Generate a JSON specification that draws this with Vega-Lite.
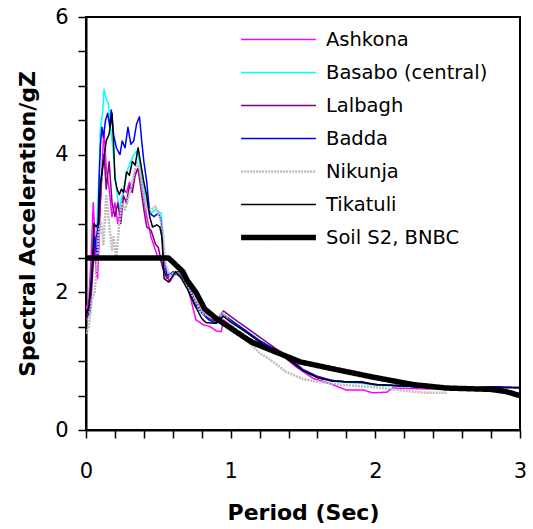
{
"$schema": "https://vega.github.io/schema/vega-lite/v6.json",
"width": 434, "height": 413,
"autosize": "none",
"padding": {"left": 86, "top": 17, "right": 13, "bottom": 99},
"background": "white",
"config": {"view": {"stroke": "black", "strokeWidth": 2}, "font": "DejaVu Sans"},
"data": {"values": [
{"s":"Ashkona","T":0,"Sa":1.75},{"s":"Ashkona","T":0.02,"Sa":1.9},{"s":"Ashkona","T":0.035,"Sa":2.5},{"s":"Ashkona","T":0.05,"Sa":3.3},{"s":"Ashkona","T":0.06,"Sa":2.9},{"s":"Ashkona","T":0.07,"Sa":2.3},{"s":"Ashkona","T":0.08,"Sa":2.2},{"s":"Ashkona","T":0.09,"Sa":2.7},{"s":"Ashkona","T":0.1,"Sa":3.3},{"s":"Ashkona","T":0.115,"Sa":4.0},{"s":"Ashkona","T":0.125,"Sa":4.35},{"s":"Ashkona","T":0.14,"Sa":3.8},{"s":"Ashkona","T":0.16,"Sa":3.5},{"s":"Ashkona","T":0.18,"Sa":3.1},{"s":"Ashkona","T":0.2,"Sa":3.3},{"s":"Ashkona","T":0.22,"Sa":3.0},{"s":"Ashkona","T":0.24,"Sa":3.2},{"s":"Ashkona","T":0.26,"Sa":3.5},{"s":"Ashkona","T":0.28,"Sa":3.45},{"s":"Ashkona","T":0.3,"Sa":3.6},{"s":"Ashkona","T":0.32,"Sa":3.5},{"s":"Ashkona","T":0.34,"Sa":3.75},{"s":"Ashkona","T":0.36,"Sa":3.8},{"s":"Ashkona","T":0.38,"Sa":3.6},{"s":"Ashkona","T":0.4,"Sa":3.35},{"s":"Ashkona","T":0.42,"Sa":3.1},{"s":"Ashkona","T":0.45,"Sa":2.8},{"s":"Ashkona","T":0.49,"Sa":2.55},{"s":"Ashkona","T":0.52,"Sa":2.45},{"s":"Ashkona","T":0.55,"Sa":2.28},{"s":"Ashkona","T":0.58,"Sa":2.15},{"s":"Ashkona","T":0.62,"Sa":2.3},{"s":"Ashkona","T":0.66,"Sa":2.25},{"s":"Ashkona","T":0.7,"Sa":2.1},{"s":"Ashkona","T":0.73,"Sa":1.85},{"s":"Ashkona","T":0.76,"Sa":1.6},{"s":"Ashkona","T":0.81,"Sa":1.53},{"s":"Ashkona","T":0.86,"Sa":1.5},{"s":"Ashkona","T":0.9,"Sa":1.44},{"s":"Ashkona","T":0.935,"Sa":1.43},{"s":"Ashkona","T":0.95,"Sa":1.6},{"s":"Ashkona","T":1.0,"Sa":1.52},{"s":"Ashkona","T":1.06,"Sa":1.4},{"s":"Ashkona","T":1.2,"Sa":1.26},{"s":"Ashkona","T":1.34,"Sa":1.11},{"s":"Ashkona","T":1.45,"Sa":0.92},{"s":"Ashkona","T":1.57,"Sa":0.75},{"s":"Ashkona","T":1.68,"Sa":0.68},{"s":"Ashkona","T":1.8,"Sa":0.58},{"s":"Ashkona","T":1.92,"Sa":0.58},{"s":"Ashkona","T":1.98,"Sa":0.54},{"s":"Ashkona","T":2.08,"Sa":0.55},{"s":"Ashkona","T":2.12,"Sa":0.61},{"s":"Ashkona","T":2.3,"Sa":0.6},{"s":"Ashkona","T":2.5,"Sa":0.59},
{"s":"Basabo (central)","T":0,"Sa":1.6},{"s":"Basabo (central)","T":0.03,"Sa":1.7},{"s":"Basabo (central)","T":0.05,"Sa":2.6},{"s":"Basabo (central)","T":0.07,"Sa":2.7},{"s":"Basabo (central)","T":0.09,"Sa":3.7},{"s":"Basabo (central)","T":0.1,"Sa":4.4},{"s":"Basabo (central)","T":0.115,"Sa":4.6},{"s":"Basabo (central)","T":0.125,"Sa":4.95},{"s":"Basabo (central)","T":0.14,"Sa":4.8},{"s":"Basabo (central)","T":0.155,"Sa":4.75},{"s":"Basabo (central)","T":0.17,"Sa":4.4},{"s":"Basabo (central)","T":0.19,"Sa":4.0},{"s":"Basabo (central)","T":0.21,"Sa":3.5},{"s":"Basabo (central)","T":0.23,"Sa":3.2},{"s":"Basabo (central)","T":0.25,"Sa":3.4},{"s":"Basabo (central)","T":0.27,"Sa":3.6},{"s":"Basabo (central)","T":0.29,"Sa":3.8},{"s":"Basabo (central)","T":0.31,"Sa":3.9},{"s":"Basabo (central)","T":0.33,"Sa":4.0},{"s":"Basabo (central)","T":0.35,"Sa":4.05},{"s":"Basabo (central)","T":0.37,"Sa":3.9},{"s":"Basabo (central)","T":0.39,"Sa":3.6},{"s":"Basabo (central)","T":0.42,"Sa":3.3},{"s":"Basabo (central)","T":0.45,"Sa":3.15},{"s":"Basabo (central)","T":0.48,"Sa":3.2},{"s":"Basabo (central)","T":0.52,"Sa":3.15},{"s":"Basabo (central)","T":0.535,"Sa":2.5},{"s":"Basabo (central)","T":0.56,"Sa":2.3},{"s":"Basabo (central)","T":0.6,"Sa":2.25},{"s":"Basabo (central)","T":0.65,"Sa":2.25},{"s":"Basabo (central)","T":0.7,"Sa":2.1},{"s":"Basabo (central)","T":0.75,"Sa":1.85},{"s":"Basabo (central)","T":0.8,"Sa":1.7},{"s":"Basabo (central)","T":0.85,"Sa":1.6},{"s":"Basabo (central)","T":0.9,"Sa":1.55},{"s":"Basabo (central)","T":0.95,"Sa":1.67},{"s":"Basabo (central)","T":1.0,"Sa":1.6},{"s":"Basabo (central)","T":1.1,"Sa":1.45},{"s":"Basabo (central)","T":1.2,"Sa":1.3},{"s":"Basabo (central)","T":1.3,"Sa":1.17},{"s":"Basabo (central)","T":1.4,"Sa":1.03},{"s":"Basabo (central)","T":1.5,"Sa":0.86},{"s":"Basabo (central)","T":1.6,"Sa":0.76},{"s":"Basabo (central)","T":1.7,"Sa":0.71},{"s":"Basabo (central)","T":1.8,"Sa":0.69},{"s":"Basabo (central)","T":1.9,"Sa":0.68},{"s":"Basabo (central)","T":2.0,"Sa":0.65},{"s":"Basabo (central)","T":2.2,"Sa":0.63},{"s":"Basabo (central)","T":2.4,"Sa":0.61},{"s":"Basabo (central)","T":2.5,"Sa":0.6},
{"s":"Lalbagh","T":0,"Sa":1.6},{"s":"Lalbagh","T":0.03,"Sa":1.75},{"s":"Lalbagh","T":0.05,"Sa":2.4},{"s":"Lalbagh","T":0.07,"Sa":2.8},{"s":"Lalbagh","T":0.09,"Sa":3.0},{"s":"Lalbagh","T":0.11,"Sa":3.7},{"s":"Lalbagh","T":0.125,"Sa":4.0},{"s":"Lalbagh","T":0.14,"Sa":3.5},{"s":"Lalbagh","T":0.16,"Sa":3.9},{"s":"Lalbagh","T":0.18,"Sa":3.3},{"s":"Lalbagh","T":0.2,"Sa":3.1},{"s":"Lalbagh","T":0.22,"Sa":3.3},{"s":"Lalbagh","T":0.24,"Sa":3.0},{"s":"Lalbagh","T":0.26,"Sa":3.4},{"s":"Lalbagh","T":0.28,"Sa":3.3},{"s":"Lalbagh","T":0.3,"Sa":3.55},{"s":"Lalbagh","T":0.32,"Sa":3.45},{"s":"Lalbagh","T":0.34,"Sa":3.7},{"s":"Lalbagh","T":0.36,"Sa":3.8},{"s":"Lalbagh","T":0.38,"Sa":3.5},{"s":"Lalbagh","T":0.4,"Sa":3.2},{"s":"Lalbagh","T":0.42,"Sa":2.95},{"s":"Lalbagh","T":0.45,"Sa":2.9},{"s":"Lalbagh","T":0.48,"Sa":2.7},{"s":"Lalbagh","T":0.5,"Sa":2.65},{"s":"Lalbagh","T":0.53,"Sa":2.35},{"s":"Lalbagh","T":0.56,"Sa":2.2},{"s":"Lalbagh","T":0.6,"Sa":2.3},{"s":"Lalbagh","T":0.65,"Sa":2.3},{"s":"Lalbagh","T":0.7,"Sa":2.15},{"s":"Lalbagh","T":0.75,"Sa":1.9},{"s":"Lalbagh","T":0.8,"Sa":1.72},{"s":"Lalbagh","T":0.85,"Sa":1.62},{"s":"Lalbagh","T":0.9,"Sa":1.58},{"s":"Lalbagh","T":0.95,"Sa":1.73},{"s":"Lalbagh","T":1.0,"Sa":1.65},{"s":"Lalbagh","T":1.1,"Sa":1.5},{"s":"Lalbagh","T":1.2,"Sa":1.35},{"s":"Lalbagh","T":1.3,"Sa":1.2},{"s":"Lalbagh","T":1.4,"Sa":1.06},{"s":"Lalbagh","T":1.5,"Sa":0.88},{"s":"Lalbagh","T":1.6,"Sa":0.78},{"s":"Lalbagh","T":1.7,"Sa":0.72},{"s":"Lalbagh","T":1.8,"Sa":0.7},{"s":"Lalbagh","T":1.9,"Sa":0.69},{"s":"Lalbagh","T":2.0,"Sa":0.66},{"s":"Lalbagh","T":2.2,"Sa":0.64},{"s":"Lalbagh","T":2.4,"Sa":0.62},{"s":"Lalbagh","T":2.6,"Sa":0.6},{"s":"Lalbagh","T":2.8,"Sa":0.63},
{"s":"Badda","T":0,"Sa":1.7},{"s":"Badda","T":0.02,"Sa":1.75},{"s":"Badda","T":0.04,"Sa":2.3},{"s":"Badda","T":0.06,"Sa":2.8},{"s":"Badda","T":0.08,"Sa":2.5},{"s":"Badda","T":0.09,"Sa":3.6},{"s":"Badda","T":0.1,"Sa":4.15},{"s":"Badda","T":0.11,"Sa":4.4},{"s":"Badda","T":0.12,"Sa":4.25},{"s":"Badda","T":0.135,"Sa":4.5},{"s":"Badda","T":0.15,"Sa":4.6},{"s":"Badda","T":0.165,"Sa":4.4},{"s":"Badda","T":0.175,"Sa":4.65},{"s":"Badda","T":0.19,"Sa":4.3},{"s":"Badda","T":0.21,"Sa":4.1},{"s":"Badda","T":0.235,"Sa":4.0},{"s":"Badda","T":0.25,"Sa":4.2},{"s":"Badda","T":0.27,"Sa":4.1},{"s":"Badda","T":0.29,"Sa":4.4},{"s":"Badda","T":0.31,"Sa":4.15},{"s":"Badda","T":0.33,"Sa":4.2},{"s":"Badda","T":0.35,"Sa":4.45},{"s":"Badda","T":0.37,"Sa":4.55},{"s":"Badda","T":0.385,"Sa":4.2},{"s":"Badda","T":0.4,"Sa":3.9},{"s":"Badda","T":0.42,"Sa":3.6},{"s":"Badda","T":0.44,"Sa":3.15},{"s":"Badda","T":0.47,"Sa":3.1},{"s":"Badda","T":0.5,"Sa":3.15},{"s":"Badda","T":0.52,"Sa":3.05},{"s":"Badda","T":0.535,"Sa":2.5},{"s":"Badda","T":0.56,"Sa":2.25},{"s":"Badda","T":0.6,"Sa":2.28},{"s":"Badda","T":0.65,"Sa":2.25},{"s":"Badda","T":0.7,"Sa":2.1},{"s":"Badda","T":0.75,"Sa":1.85},{"s":"Badda","T":0.8,"Sa":1.7},{"s":"Badda","T":0.85,"Sa":1.6},{"s":"Badda","T":0.9,"Sa":1.55},{"s":"Badda","T":0.95,"Sa":1.68},{"s":"Badda","T":1.0,"Sa":1.6},{"s":"Badda","T":1.1,"Sa":1.45},{"s":"Badda","T":1.2,"Sa":1.3},{"s":"Badda","T":1.3,"Sa":1.18},{"s":"Badda","T":1.4,"Sa":1.04},{"s":"Badda","T":1.5,"Sa":0.87},{"s":"Badda","T":1.6,"Sa":0.77},{"s":"Badda","T":1.7,"Sa":0.72},{"s":"Badda","T":1.8,"Sa":0.7},{"s":"Badda","T":1.9,"Sa":0.7},{"s":"Badda","T":2.0,"Sa":0.66},{"s":"Badda","T":2.2,"Sa":0.64},{"s":"Badda","T":2.4,"Sa":0.61},{"s":"Badda","T":2.6,"Sa":0.6},{"s":"Badda","T":2.8,"Sa":0.63},{"s":"Badda","T":3.0,"Sa":0.62},
{"s":"Nikunja","T":0,"Sa":1.4},{"s":"Nikunja","T":0.02,"Sa":1.5},{"s":"Nikunja","T":0.04,"Sa":1.9},{"s":"Nikunja","T":0.06,"Sa":2.0},{"s":"Nikunja","T":0.075,"Sa":2.4},{"s":"Nikunja","T":0.09,"Sa":2.9},{"s":"Nikunja","T":0.105,"Sa":3.0},{"s":"Nikunja","T":0.12,"Sa":2.7},{"s":"Nikunja","T":0.14,"Sa":3.4},{"s":"Nikunja","T":0.16,"Sa":3.0},{"s":"Nikunja","T":0.18,"Sa":2.6},{"s":"Nikunja","T":0.19,"Sa":2.8},{"s":"Nikunja","T":0.21,"Sa":2.5},{"s":"Nikunja","T":0.23,"Sa":3.0},{"s":"Nikunja","T":0.25,"Sa":3.3},{"s":"Nikunja","T":0.27,"Sa":3.2},{"s":"Nikunja","T":0.29,"Sa":3.35},{"s":"Nikunja","T":0.31,"Sa":3.5},{"s":"Nikunja","T":0.33,"Sa":3.7},{"s":"Nikunja","T":0.35,"Sa":3.9},{"s":"Nikunja","T":0.37,"Sa":3.8},{"s":"Nikunja","T":0.39,"Sa":3.5},{"s":"Nikunja","T":0.42,"Sa":3.2},{"s":"Nikunja","T":0.45,"Sa":3.2},{"s":"Nikunja","T":0.48,"Sa":3.25},{"s":"Nikunja","T":0.51,"Sa":3.1},{"s":"Nikunja","T":0.53,"Sa":2.9},{"s":"Nikunja","T":0.55,"Sa":2.4},{"s":"Nikunja","T":0.58,"Sa":2.25},{"s":"Nikunja","T":0.62,"Sa":2.3},{"s":"Nikunja","T":0.7,"Sa":2.1},{"s":"Nikunja","T":0.8,"Sa":1.7},{"s":"Nikunja","T":0.9,"Sa":1.6},{"s":"Nikunja","T":0.95,"Sa":1.7},{"s":"Nikunja","T":1.0,"Sa":1.55},{"s":"Nikunja","T":1.1,"Sa":1.32},{"s":"Nikunja","T":1.2,"Sa":1.12},{"s":"Nikunja","T":1.3,"Sa":0.98},{"s":"Nikunja","T":1.38,"Sa":0.85},{"s":"Nikunja","T":1.5,"Sa":0.74},{"s":"Nikunja","T":1.6,"Sa":0.7},{"s":"Nikunja","T":1.8,"Sa":0.65},{"s":"Nikunja","T":2.0,"Sa":0.62},{"s":"Nikunja","T":2.2,"Sa":0.57},{"s":"Nikunja","T":2.35,"Sa":0.54},{"s":"Nikunja","T":2.5,"Sa":0.54},
{"s":"Tikatuli","T":0,"Sa":1.65},{"s":"Tikatuli","T":0.02,"Sa":1.8},{"s":"Tikatuli","T":0.04,"Sa":2.2},{"s":"Tikatuli","T":0.055,"Sa":3.0},{"s":"Tikatuli","T":0.07,"Sa":2.95},{"s":"Tikatuli","T":0.085,"Sa":3.0},{"s":"Tikatuli","T":0.1,"Sa":3.6},{"s":"Tikatuli","T":0.12,"Sa":3.9},{"s":"Tikatuli","T":0.14,"Sa":4.2},{"s":"Tikatuli","T":0.16,"Sa":4.3},{"s":"Tikatuli","T":0.18,"Sa":4.6},{"s":"Tikatuli","T":0.19,"Sa":4.2},{"s":"Tikatuli","T":0.2,"Sa":3.65},{"s":"Tikatuli","T":0.215,"Sa":3.5},{"s":"Tikatuli","T":0.23,"Sa":3.42},{"s":"Tikatuli","T":0.245,"Sa":3.5},{"s":"Tikatuli","T":0.26,"Sa":3.45},{"s":"Tikatuli","T":0.28,"Sa":3.75},{"s":"Tikatuli","T":0.3,"Sa":3.7},{"s":"Tikatuli","T":0.32,"Sa":3.9},{"s":"Tikatuli","T":0.34,"Sa":3.85},{"s":"Tikatuli","T":0.36,"Sa":4.1},{"s":"Tikatuli","T":0.38,"Sa":3.85},{"s":"Tikatuli","T":0.4,"Sa":3.6},{"s":"Tikatuli","T":0.42,"Sa":3.4},{"s":"Tikatuli","T":0.44,"Sa":3.1},{"s":"Tikatuli","T":0.46,"Sa":2.95},{"s":"Tikatuli","T":0.49,"Sa":2.98},{"s":"Tikatuli","T":0.51,"Sa":2.95},{"s":"Tikatuli","T":0.525,"Sa":2.8},{"s":"Tikatuli","T":0.54,"Sa":2.2},{"s":"Tikatuli","T":0.57,"Sa":2.15},{"s":"Tikatuli","T":0.62,"Sa":2.3},{"s":"Tikatuli","T":0.66,"Sa":2.2},{"s":"Tikatuli","T":0.7,"Sa":2.05},{"s":"Tikatuli","T":0.75,"Sa":1.82},{"s":"Tikatuli","T":0.8,"Sa":1.62},{"s":"Tikatuli","T":0.83,"Sa":1.56},{"s":"Tikatuli","T":0.9,"Sa":1.55},{"s":"Tikatuli","T":0.95,"Sa":1.65},{"s":"Tikatuli","T":1.0,"Sa":1.57},{"s":"Tikatuli","T":1.1,"Sa":1.43},{"s":"Tikatuli","T":1.2,"Sa":1.28},{"s":"Tikatuli","T":1.3,"Sa":1.15},{"s":"Tikatuli","T":1.4,"Sa":1.02},{"s":"Tikatuli","T":1.5,"Sa":0.86},{"s":"Tikatuli","T":1.6,"Sa":0.76},{"s":"Tikatuli","T":1.7,"Sa":0.71},{"s":"Tikatuli","T":1.8,"Sa":0.7},{"s":"Tikatuli","T":1.9,"Sa":0.7},{"s":"Tikatuli","T":2.0,"Sa":0.66},{"s":"Tikatuli","T":2.2,"Sa":0.64},{"s":"Tikatuli","T":2.4,"Sa":0.61},{"s":"Tikatuli","T":2.6,"Sa":0.6},{"s":"Tikatuli","T":2.8,"Sa":0.62},{"s":"Tikatuli","T":3.0,"Sa":0.61},
{"s":"Soil S2, BNBC","T":0,"Sa":2.5},{"s":"Soil S2, BNBC","T":0.57,"Sa":2.5},{"s":"Soil S2, BNBC","T":0.62,"Sa":2.4},{"s":"Soil S2, BNBC","T":0.67,"Sa":2.3},{"s":"Soil S2, BNBC","T":0.7,"Sa":2.17},{"s":"Soil S2, BNBC","T":0.76,"Sa":2.0},{"s":"Soil S2, BNBC","T":0.82,"Sa":1.76},{"s":"Soil S2, BNBC","T":0.9,"Sa":1.62},{"s":"Soil S2, BNBC","T":1.0,"Sa":1.48},{"s":"Soil S2, BNBC","T":1.15,"Sa":1.27},{"s":"Soil S2, BNBC","T":1.34,"Sa":1.11},{"s":"Soil S2, BNBC","T":1.48,"Sa":0.99},{"s":"Soil S2, BNBC","T":1.68,"Sa":0.9},{"s":"Soil S2, BNBC","T":1.98,"Sa":0.77},{"s":"Soil S2, BNBC","T":2.26,"Sa":0.66},{"s":"Soil S2, BNBC","T":2.49,"Sa":0.61},{"s":"Soil S2, BNBC","T":2.8,"Sa":0.59},{"s":"Soil S2, BNBC","T":2.9,"Sa":0.56},{"s":"Soil S2, BNBC","T":3.0,"Sa":0.5}
]},
"mark": {"type": "line", "clip": true, "strokeCap": "butt", "strokeJoin": "round"},
"encoding": {
  "x": {"field": "T", "type": "quantitative", "scale": {"domain": [0, 3], "nice": false, "zero": false},
    "axis": {"values": [0,0.2,0.4,0.6,0.8,1,1.2,1.4,1.6,1.8,2,2.2,2.4,2.6,2.8,3],
      "labelExpr": "abs(datum.value - round(datum.value)) < 0.001 ? format(datum.value, 'd') : ''",
      "grid": false, "domainColor": "black", "domainWidth": 2, "tickColor": "black", "tickWidth": 1.5, "tickSize": 8,
      "labelFontSize": 21, "labelColor": "black", "labelPadding": 22, "labelFlush": false, "labelOverlap": false,
      "title": "Period (Sec)", "titleFontSize": 22, "titleFontWeight": "bold", "titleColor": "black", "titlePadding": 21}},
  "y": {"field": "Sa", "type": "quantitative", "scale": {"domain": [0, 6], "nice": false},
    "axis": {"values": [0,0.5,1,1.5,2,2.5,3,3.5,4,4.5,5,5.5,6],
      "labelExpr": "datum.value % 2 === 0 ? format(datum.value, 'd') : ''",
      "grid": false, "domainColor": "black", "domainWidth": 2, "tickColor": "black", "tickWidth": 1.5, "tickSize": 8,
      "labelFontSize": 21, "labelColor": "black", "labelPadding": 10, "labelFlush": false, "labelOverlap": false,
      "title": "Spectral Acceleration/gZ", "titleFontSize": 22, "titleFontWeight": "bold", "titleColor": "black", "titlePadding": 15}},
  "color": {"field": "s", "type": "nominal",
    "scale": {"domain": ["Ashkona","Basabo (central)","Lalbagh","Badda","Nikunja","Tikatuli","Soil S2, BNBC"],
      "range": ["#FF00FF","#00FFFF","#800080","#0000FF","#BDBDBD","#000000","#000000"]},
    "legend": {"title": null, "orient": "none", "legendX": 152, "legendY": 6, "symbolType": "stroke", "symbolSize": 5600,
      "clipHeight": 33, "labelFontSize": 19.5, "labelColor": "black", "labelOffset": 7, "labelLimit": 400, "rowPadding": 0, "padding": 0}},
  "strokeWidth": {"field": "s", "type": "nominal",
    "scale": {"type": "ordinal", "domain": ["Ashkona","Basabo (central)","Lalbagh","Badda","Nikunja","Tikatuli","Soil S2, BNBC"],
      "range": [1.5,1.5,1.5,1.5,2.5,1.5,5.5]}},
  "strokeDash": {"field": "s", "type": "nominal",
    "scale": {"domain": ["Ashkona","Basabo (central)","Lalbagh","Badda","Nikunja","Tikatuli","Soil S2, BNBC"],
      "range": [[1,0],[1,0],[1,0],[1,0],[2,1],[1,0],[1,0]]}}
}
}
